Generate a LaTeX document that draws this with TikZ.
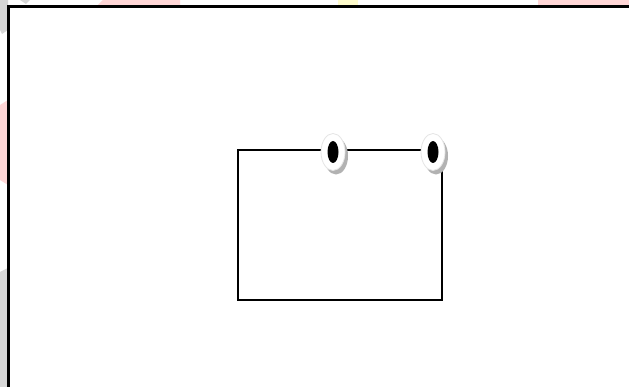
\documentclass[tikz,border=0pt]{standalone}
\usetikzlibrary{shapes.geometric}
\definecolor{wmpink}{RGB}{255,214,214}
\definecolor{wmyellow}{RGB}{255,252,204}
\definecolor{wmgray}{RGB}{214,214,214}
\tikzset{
  frame/.style={draw=black, line width=2.2pt},
  box/.style={draw=black, line width=1.3pt},
  ringshadow/.style={ellipse, fill=black!30, minimum width=24pt, minimum height=37pt, inner sep=0pt},
  ringbody/.style={ellipse, fill=white, draw=black!10, line width=0.8pt, minimum width=24pt, minimum height=37pt, inner sep=0pt},
  ringhole/.style={ellipse, fill=black, minimum width=11pt, minimum height=22pt, inner sep=0pt}
}
\begin{document}
\begin{tikzpicture}[x=1pt,y=-1pt]
\useasboundingbox (0,0) rectangle (629,387);
\fill[white] (0,0) rectangle (629,387);
% faint background marks
\fill[wmpink] (103,0) -- (180,0) -- (180,7) -- (96,7) -- cycle;
\fill[wmyellow] (338,0) -- (358,0) -- (358,7) -- (338,7) -- cycle;
\fill[wmpink] (538,0) -- (629,0) -- (629,7) -- (538,7) -- cycle;
\fill[wmgray] (0,0) -- (8,0) -- (8,30) -- (2,34) -- (0,30) -- cycle;
\fill[wmgray] (20,0) -- (30,0) -- (26,4) -- cycle;
\fill[wmpink] (0,105) -- (8,100) -- (8,185) -- (0,180) -- cycle;
\fill[wmgray] (0,272) -- (8,268) -- (8,387) -- (0,387) -- cycle;
% outer frame
\draw[frame] (8.5,392) -- (8.5,6.5) -- (634,6.5);
% inner rectangle
\coordinate (tl) at (238,150);
\coordinate (tr) at (442,150);
\coordinate (br) at (442,300);
\coordinate (bl) at (238,300);
\draw[box] (tl) -- (tr) -- (br) -- (bl) -- cycle;
% rings
\node[ringshadow] (s1) at (336,156) {};
\node[ringbody] (r1) at (333,152) {};
\node[ringhole] (h1) at (r1) {};
\node[ringshadow] (s2) at (436,156) {};
\node[ringbody] (r2) at (433,152) {};
\node[ringhole] (h2) at (r2) {};
\end{tikzpicture}
\end{document}
